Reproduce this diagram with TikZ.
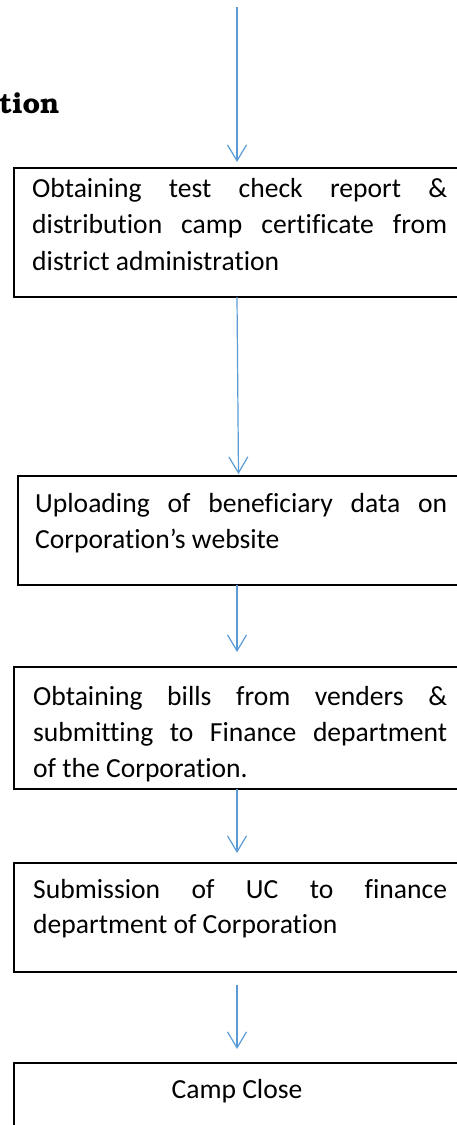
\documentclass[tikz,border=0pt]{standalone}
\usepackage{fontspec}
\setmainfont{Carlito}[Ligatures={NoCommon}]
\usetikzlibrary{arrows.meta}
\definecolor{arrowblue}{HTML}{5B9BD5}
\newcommand{\headfont}{\fontencoding{OT1}\fontfamily{pbk}\fontseries{b}\fontsize{28.5}{32}\selectfont}
\begin{document}
\begin{tikzpicture}[x=1pt,y=-1pt,
  stepbox/.style={draw=black, line width=1.5pt, anchor=north west, inner sep=0pt},
  txt/.style={anchor=base west, inner sep=0pt, font=\fontsize{27.6}{33}\selectfont},
  ctxt/.style={anchor=base, inner sep=0pt, font=\fontsize{27.6}{33}\selectfont},
  flow/.style={draw=arrowblue, line width=1.2pt, -{Straight Barb[length=16pt,width=19pt]}}]
\useasboundingbox (0,0) rectangle (457,1125);
\clip (0,0) rectangle (457,1125);

% heading fragment
\node[anchor=base west, inner sep=0pt] (head) at (-1,113) {\headfont tion};

% process boxes (they run past the right margin)
\node[stepbox, minimum width=460pt, minimum height=129pt] (b1) at (13,167) {};
\node[stepbox, minimum width=460pt, minimum height=109pt] (b2) at (17,475) {};
\node[stepbox, minimum width=460pt, minimum height=122pt] (b3) at (13,666) {};
\node[stepbox, minimum width=460pt, minimum height=109pt] (b4) at (13,862) {};
\node[stepbox, minimum width=460pt, minimum height=100pt] (b5) at (13,1062) {};

% box texts, justified line by line
\node[txt] (t1a) at (32,197) {\makebox[415pt][s]{Obtaining test check report \&}};
\node[txt] (t1b) at (32,233) {\makebox[415pt][s]{distribution camp certificate from}};
\node[txt] (t1c) at (32,270) {district administration};

\node[txt] (t2a) at (35,512) {\makebox[412pt][s]{Uploading of beneficiary data on}};
\node[txt] (t2b) at (35,548) {Corporation’s website};

\node[txt] (t3a) at (33,705) {\makebox[414pt][s]{Obtaining bills from venders \&}};
\node[txt] (t3b) at (33,741) {\makebox[414pt][s]{submitting to Finance department}};
\node[txt] (t3c) at (33,777) {of the Corporation.};

\node[txt] (t4a) at (33,898) {\makebox[414pt][s]{Submission of UC to finance}};
\node[txt] (t4b) at (33,933) {department of Corporation};

\node[ctxt] (t5a) at (237,1098) {Camp Close};

% connectors
\coordinate (c0s) at (237,7);
\coordinate (c0e) at (237,162);
\coordinate (c1s) at (237,297);
\coordinate (c1e) at (238.5,474);
\coordinate (c2s) at (237,585);
\coordinate (c2e) at (237,652);
\coordinate (c3s) at (237,789);
\coordinate (c3e) at (237,853);
\coordinate (c4s) at (237,985);
\coordinate (c4e) at (237,1049);
\draw[flow] (c0s) -- (c0e);
\draw[flow] (c1s) -- (c1e);
\draw[flow] (c2s) -- (c2e);
\draw[flow] (c3s) -- (c3e);
\draw[flow] (c4s) -- (c4e);
\end{tikzpicture}
\end{document}
